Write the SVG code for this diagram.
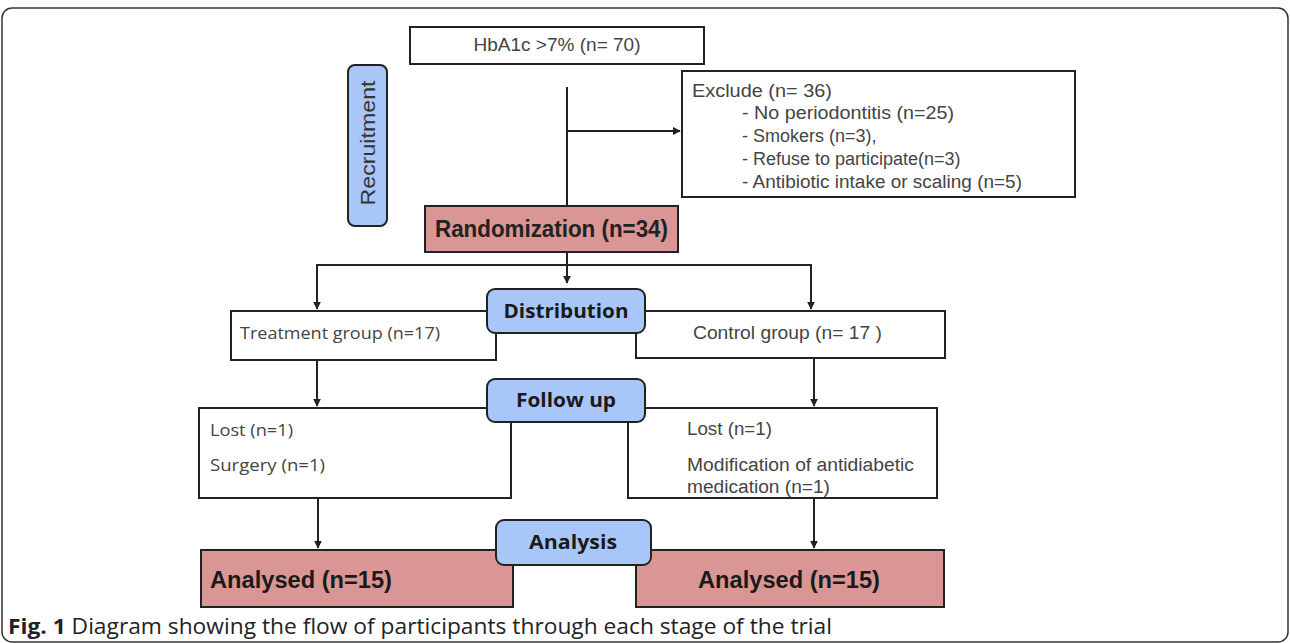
<svg xmlns="http://www.w3.org/2000/svg" width="1290" height="643" viewBox="0 0 1290 643">
<style>
.box{fill:#fff;stroke:#222;stroke-width:2}
.pink{fill:#d99694;stroke:#222;stroke-width:2}
.blue{fill:#a8c6f7;stroke:#222;stroke-width:2}
.t{font-family:"Liberation Sans",Arial,sans-serif;font-size:18px;fill:#444}
.c{font-family:"Open Sans","Liberation Sans",sans-serif;font-size:17px;fill:#444}
.b{font-family:"Open Sans","Liberation Sans",sans-serif;font-weight:bold;font-size:19px;fill:#1a1a1a}
.ab{font-family:"Liberation Sans",Arial,sans-serif;font-weight:bold;font-size:23px;fill:#1a1a1a}
.ln{fill:none;stroke:#222;stroke-width:2}
</style>
<defs>
<marker id="ah" viewBox="0 0 10 10" refX="9" refY="5" markerWidth="4" markerHeight="4" orient="auto">
<path d="M0,0 L10,5 L0,10 z" fill="#222"/>
</marker>
</defs>
<rect x="2" y="8" width="1286" height="634" rx="10" fill="#fff" stroke="#333" stroke-width="1.5"/>

<g id="connectors">
<path class="ln" d="M567,87 V206"/>
<path class="ln" d="M567,131 H680" marker-end="url(#ah)"/>
<path class="ln" d="M567,252 V283" marker-end="url(#ah)"/>
<path class="ln" d="M317,306 V265 H811 V306" />
<path class="ln" d="M317,280 V309" marker-end="url(#ah)"/>
<path class="ln" d="M811,280 V309" marker-end="url(#ah)"/>
<path class="ln" d="M317,360 V406" marker-end="url(#ah)"/>
<path class="ln" d="M814,358 V406" marker-end="url(#ah)"/>
<path class="ln" d="M318,498 V548" marker-end="url(#ah)"/>
<path class="ln" d="M814,498 V548" marker-end="url(#ah)"/>
</g>

<g id="hba1c">
<rect class="box" x="410" y="27" width="294" height="37"/>
<text class="t" x="557" y="51" text-anchor="middle" style="font-size:17.5px" textLength="167" lengthAdjust="spacingAndGlyphs">HbA1c &gt;7% (n= 70)</text>
</g>

<g id="recruitment">
<rect class="blue" x="348" y="65" width="39" height="161" rx="7"/>
<text class="t" transform="translate(375,143) rotate(-90)" text-anchor="middle" style="font-size:21px;fill:#333" textLength="125" lengthAdjust="spacingAndGlyphs">Recruitment</text>
</g>

<g id="exclude">
<rect class="box" x="682" y="71" width="393" height="126"/>
<text class="t" x="692" y="97" textLength="140" lengthAdjust="spacingAndGlyphs">Exclude  (n= 36)</text>
<text class="t" x="742" y="119" textLength="212" lengthAdjust="spacingAndGlyphs">- No periodontitis (n=25)</text>
<text class="t" x="742" y="142">- Smokers (n=3),</text>
<text class="t" x="742" y="165">- Refuse to participate(n=3)</text>
<text class="t" x="742" y="188" textLength="280" lengthAdjust="spacingAndGlyphs">- Antibiotic intake or scaling (n=5)</text>
</g>

<g id="randomization">
<rect class="pink" x="425" y="206" width="253" height="46"/>
<text class="ab" x="435" y="237" textLength="233" lengthAdjust="spacingAndGlyphs" style="fill:#222">Randomization (n=34)</text>
</g>

<g id="treatment">
<rect class="box" x="231" y="311" width="265" height="49"/>
<text class="c" x="240" y="339" textLength="200" lengthAdjust="spacingAndGlyphs">Treatment group (n=17)</text>
</g>

<g id="control">
<rect class="box" x="636" y="311" width="309" height="47"/>
<text class="t" x="693" y="339" textLength="189" lengthAdjust="spacingAndGlyphs">Control group (n= 17 )</text>
</g>

<g id="distribution">
<rect class="blue" x="487" y="289" width="158" height="44" rx="8"/>
<text class="b" x="566" y="318" text-anchor="middle" textLength="125" lengthAdjust="spacingAndGlyphs">Distribution</text>
</g>

<g id="lost-left">
<rect class="box" x="199" y="408" width="312" height="90"/>
<text class="c" x="210" y="436" textLength="83" lengthAdjust="spacingAndGlyphs">Lost (n=1)</text>
<text class="c" x="210" y="471" textLength="115" lengthAdjust="spacingAndGlyphs">Surgery (n=1)</text>
</g>

<g id="lost-right">
<rect class="box" x="628" y="408" width="309" height="90"/>
<text class="t" x="687" y="435" textLength="85" lengthAdjust="spacingAndGlyphs">Lost (n=1)</text>
<text class="t" x="687" y="471" textLength="227" lengthAdjust="spacingAndGlyphs">Modification of antidiabetic</text>
<text class="t" x="687" y="493" textLength="143" lengthAdjust="spacingAndGlyphs">medication (n=1)</text>
</g>

<g id="followup">
<rect class="blue" x="487" y="379" width="158" height="43" rx="8"/>
<text class="b" x="566" y="407" text-anchor="middle" textLength="100" lengthAdjust="spacingAndGlyphs">Follow up</text>
</g>

<g id="analysed-left">
<rect class="pink" x="201" y="550" width="312" height="57"/>
<text class="ab" x="210" y="588" textLength="182" lengthAdjust="spacingAndGlyphs">Analysed  (n=15)</text>
</g>

<g id="analysed-right">
<rect class="pink" x="636" y="550" width="308" height="57"/>
<text class="ab" x="698" y="588" textLength="182" lengthAdjust="spacingAndGlyphs">Analysed  (n=15)</text>
</g>

<g id="analysis">
<rect class="blue" x="496" y="520" width="155" height="45" rx="8"/>
<text class="b" x="573" y="549" text-anchor="middle" textLength="88" lengthAdjust="spacingAndGlyphs">Analysis</text>
</g>

<text x="8" y="634" font-family="'Open Sans','Liberation Sans',sans-serif" font-size="21" fill="#222" textLength="824" lengthAdjust="spacingAndGlyphs"><tspan font-weight="bold">Fig. 1</tspan> Diagram showing the flow of participants through each stage of the trial</text>
</svg>
